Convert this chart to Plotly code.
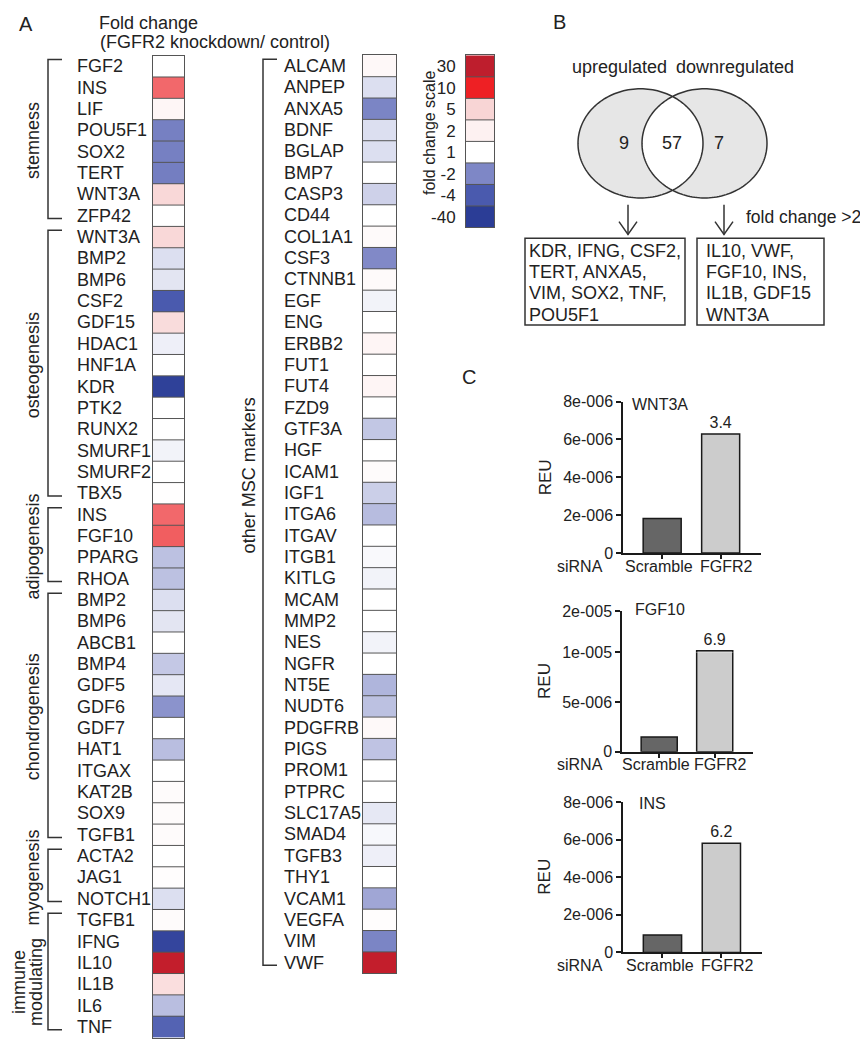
import numpy as np
import plotly.graph_objects as go

# The page body has an 8px margin, so the figure is sized to fill the rest of the window
# and page-pixel positions are converted into figure (paper) fractions.
OFF = 8
W, H = 868 - OFF, 1050 - OFF
def px(x): return (x - OFF) / W
def py(y): return 1 - (y - OFF) / H

FONT = "Arial, 'Liberation Sans', sans-serif"
TXT = "#222222"
AX = "#1a1a1a"
GRID = "#555555"

# ---------------- data ----------------
COL1_GENES = ["FGF2", "INS", "LIF", "POU5F1", "SOX2", "TERT", "WNT3A", "ZFP42",
              "WNT3A", "BMP2", "BMP6", "CSF2", "GDF15", "HDAC1", "HNF1A", "KDR", "PTK2",
              "RUNX2", "SMURF1", "SMURF2", "TBX5",
              "INS", "FGF10", "PPARG", "RHOA",
              "BMP2", "BMP6", "ABCB1", "BMP4", "GDF5", "GDF6", "GDF7", "HAT1", "ITGAX",
              "KAT2B", "SOX9", "TGFB1",
              "ACTA2", "JAG1", "NOTCH1",
              "TGFB1", "IFNG", "IL10", "IL1B", "IL6", "TNF"]
COL1_FOLD = [1.0, 8.0, 1.64, -2.3, -2.3, -2.4, 4.7, 1.0,
             4.7, -1.27, -1.22, -4.5, 4.25, -1.13, 1.0, -35, 1.0,
             1.0, -1.1, 1.0, 1.1,
             8.0, 8.3, -1.52, -1.52,
             -1.27, -1.22, 1.0, -1.46, -1.2, -1.9, 1.0, -1.54, 1.0,
             1.3, 1.3, 1.3,
             1.0, 1.15, -1.27,
             1.3, -30, 28, 4.0, -1.54, -3.6]
COL1_GROUPS = [("stemness", 8), ("osteogenesis", 13), ("adipogenesis", 4),
               ("chondrogenesis", 12), ("myogenesis", 3), ("immune<br>modulating", 6)]

COL2_GENES = ["ALCAM", "ANPEP", "ANXA5", "BDNF", "BGLAP", "BMP7", "CASP3", "CD44", "COL1A1",
              "CSF3", "CTNNB1", "EGF", "ENG", "ERBB2", "FUT1", "FUT4", "FZD9", "GTF3A", "HGF",
              "ICAM1", "IGF1", "ITGA6", "ITGAV", "ITGB1", "KITLG", "MCAM", "MMP2", "NES",
              "NGFR", "NT5E", "NUDT6", "PDGFRB", "PIGS", "PROM1", "PTPRC", "SLC17A5", "SMAD4",
              "TGFB3", "THY1", "VCAM1", "VEGFA", "VIM", "VWF"]
COL2_FOLD = [1.5, -1.27, -2.1, -1.27, -1.27, 1.0, -1.38, 1.0, 1.35,
             -1.98, 1.35, -1.1, 1.0, 1.7, 1.0, 1.7, 1.0, -1.47, 1.0,
             1.3, -1.4, -1.56, 1.0, -1.05, -1.1, 1.0, 1.0, -1.1,
             1.0, -1.62, -1.52, 1.43, -1.5, 1.0, 1.0, -1.19, -1.06,
             -1.13, 1.0, -1.74, 1.15, -2.1, 28]
COL2_GROUP = "other MSC markers"

SCALE_VALUES = [30, 10, 5, 2, 1, -2, -4, -40]
SCALE_COLORS = ["#BE1E2D", "#EE2024", "#F8D5D5", "#FDF1F1", "#FFFFFF", "#7E87C6", "#4A5AAE", "#2B3D96"]

VENN_LABELS = ["upregulated", "downregulated"]
VENN_COUNTS = [9, 57, 7]
LIST_LEFT = ["KDR, IFNG, CSF2,", "TERT, ANXA5,", "VIM, SOX2, TNF,", "POU5F1"]
LIST_RIGHT = ["IL10, VWF,", "FGF10, INS,", "IL1B, GDF15", "WNT3A"]

SIRNA = ["Scramble", "FGFR2"]
WNT3A_REU = [1.82e-6, 6.29e-6]
WNT3A_FOLD = 3.4
FGF10_REU = [1.5e-6, 1.04e-5]
FGF10_FOLD = 6.9
INS_REU = [0.93e-6, 5.8e-6]
INS_FOLD = 6.2
TICKS_8 = [0, 2e-6, 4e-6, 6e-6, 8e-6]
FGF10_TICKS_LOW = [0, 5e-6, 1e-5]
FGF10_TICKS_HIGH = [2e-5]

# ---------------- helpers ----------------
def gp_fmt(v):
    if v == 0:
        return "0"
    m, e = f"{v:.0e}".split("e")
    return f"{m}e{int(e):+04d}"

pairs = sorted(list(zip(SCALE_VALUES, SCALE_COLORS)) + [(-1, "#FFFFFF")])
vmin, vmax = pairs[0][0], pairs[-1][0]
colorscale = [[(v - vmin) / (vmax - vmin), c] for v, c in pairs]

annotations = []
shapes = []

def ann(text, x, y, size=18, xanchor="center", yanchor="middle", xref="paper", yref="paper",
        angle=0, color=TXT):
    annotations.append(dict(text=text, x=x, y=y, xref=xref, yref=yref, xanchor=xanchor,
                            yanchor=yanchor, showarrow=False, textangle=angle,
                            font=dict(family=FONT, size=size, color=color)))

def heat(z, xa, ya):
    return go.Heatmap(z=[[v] for v in z], x=[0], y=list(range(len(z))), colorscale=colorscale,
                      zmin=vmin, zmax=vmax, showscale=False, xaxis=xa, yaxis=ya,
                      hoverinfo="skip")

def heat_axes(n, x0, x1, y0, y1, anchor_x, anchor_y):
    xa = dict(domain=[px(x0), px(x1)], range=[-0.5, 0.5], showticklabels=False, ticks="",
              showgrid=False, zeroline=False, showline=True, mirror=True, linecolor=GRID,
              linewidth=1, fixedrange=True, anchor=anchor_y)
    ya = dict(domain=[py(y1), py(y0)], range=[n - 0.5, -0.5], showticklabels=False, ticks="",
              showgrid=False, zeroline=False, showline=True, mirror=True, linecolor=GRID,
              linewidth=1, fixedrange=True, anchor=anchor_x)
    return xa, ya

XRANGE = [-0.67, 1.69]
def bar_xaxis(x0, x1, anchor):
    return dict(domain=[px(x0), px(x1)], anchor=anchor, range=XRANGE, tickvals=[0, 1],
                showticklabels=False, ticks="outside", ticklen=4, tickwidth=1.5, tickcolor=AX,
                showline=True, linecolor=AX, linewidth=1.5, showgrid=False,
                zeroline=False, fixedrange=True)

def bar_yaxis(y0, y1, anchor, rng, tv):
    return dict(domain=[py(y1), py(y0)], anchor=anchor, range=rng, tickvals=tv,
                ticktext=[gp_fmt(v) for v in tv], ticks="outside", ticklen=5, tickwidth=1.5,
                tickcolor=AX, showline=True, linecolor=AX, linewidth=1.5, showgrid=False,
                zeroline=False, tickfont=dict(family=FONT, size=16, color=TXT), fixedrange=True)

def bars(vals, fold, xa, ya, show_text=True):
    return go.Bar(x=[0, 1], y=vals, width=0.65, xaxis=xa, yaxis=ya,
                  marker=dict(color=["#666666", "#CCCCCC"], line=dict(color=AX, width=1.5)),
                  text=["", f"{fold}"] if show_text else None, textposition="outside",
                  textfont=dict(family=FONT, size=16, color=TXT), cliponaxis=True,
                  hoverinfo="skip", showlegend=False)

# ---------------- traces ----------------
fig = go.Figure()
fig.add_trace(heat(COL1_FOLD, "x", "y"))
fig.add_trace(heat(COL2_FOLD, "x2", "y2"))
fig.add_trace(heat(SCALE_VALUES, "x3", "y3"))
fig.add_trace(bars(WNT3A_REU, WNT3A_FOLD, "x4", "y4"))
fig.add_trace(bars(FGF10_REU, FGF10_FOLD, "x5", "y5", show_text=False))
fig.add_trace(bars(FGF10_REU, FGF10_FOLD, "x5", "y6"))
fig.add_trace(bars(INS_REU, INS_FOLD, "x6", "y7"))

ROW = 21.7
c1_top, c2_top = 48.3, 48.0
c1_bot = min(c1_top + ROW * len(COL1_GENES), 1049)
c2_bot = c2_top + ROW * len(COL2_GENES)
xa1, ya1 = heat_axes(len(COL1_GENES), 153, 184, c1_top, c1_bot, "x", "y")
xa2, ya2 = heat_axes(len(COL2_GENES), 363, 396, c2_top, c2_bot, "x2", "y2")
xa3, ya3 = heat_axes(len(SCALE_VALUES), 466, 494, 48, 223, "x3", "y3")
ya3.update(showticklabels=True, tickvals=list(range(len(SCALE_VALUES))),
           ticktext=[str(v) for v in SCALE_VALUES], ticklabelstandoff=6,
           tickfont=dict(family=FONT, size=17, color=TXT))

layout_axes = dict(
    xaxis=xa1, yaxis=ya1, xaxis2=xa2, yaxis2=ya2, xaxis3=xa3, yaxis3=ya3,
    xaxis4=bar_xaxis(623, 761, "y4"), yaxis4=bar_yaxis(400, 554, "x4", [0, 8e-6], TICKS_8),
    xaxis5=bar_xaxis(622, 753, "y5"),
    yaxis5=bar_yaxis(655, 756, "x5", [0, 1e-5], FGF10_TICKS_LOW),
    yaxis6=bar_yaxis(613, 655, "x5", [1e-5, 2e-5], FGF10_TICKS_HIGH),
    xaxis6=bar_xaxis(623, 762, "y7"), yaxis7=bar_yaxis(807, 960, "x6", [0, 8e-6], TICKS_8),
)

# ---------------- heatmap cell borders ----------------
for n, xa, ya in [(len(COL1_GENES), "x", "y"), (len(COL2_GENES), "x2", "y2"),
                  (len(SCALE_VALUES), "x3", "y3")]:
    for i in range(n - 1):
        shapes.append(dict(type="line", xref=f"{xa} domain", yref=ya, x0=0, x1=1,
                           y0=i + 0.5, y1=i + 0.5, line=dict(color=GRID, width=1)))

# gene labels
for i, g in enumerate(COL1_GENES):
    ann(g, px(75), i, xanchor="left", yref="y")
for i, g in enumerate(COL2_GENES):
    ann(g, px(282), i, xanchor="left", yref="y2")

# brackets col 1
BR = dict(color="#333333", width=1.5)
start = 0
for label, count in COL1_GROUPS:
    end = start + count - 1
    yt, yb = start - 0.5 + 0.18, end + 0.5 - 0.37
    shapes.append(dict(type="path", xref="paper", yref="y", line=BR,
                       path=f"M{px(62)},{yt} L{px(48)},{yt} L{px(48)},{yb} L{px(62)},{yb}"))
    parts = label.split("<br>")
    if len(parts) == 1:
        ann(label, px(33), (start + end) / 2, yref="y", angle=-90)
    else:
        for part, lx in zip(parts, [19, 36]):
            ann(part, px(lx), (start + end) / 2 + 0.4, yref="y", angle=-90)
    start += count

# bracket col 2
n2 = len(COL2_GENES)
yt, yb = -0.5 + 0.18, n2 - 0.5 - 0.37
shapes.append(dict(type="path", xref="paper", yref="y2", line=BR,
                   path=f"M{px(277)},{yt} L{px(263)},{yt} L{px(263)},{yb} L{px(277)},{yb}"))
ann(COL2_GROUP, px(249), py(475), angle=-90)

# titles panel A
ann("A", px(26), py(16), size=20)
ann("Fold change", px(97), py(15), xanchor="left")
ann("(FGFR2 knockdown/ control)", px(98), py(34), xanchor="left")
ann("fold change scale", px(429), py(127), size=16, angle=-90)

# ---------------- Venn (panel B) ----------------
ann("B", px(559), py(14), size=20)
def ellipse_path(cx, cy, rx, ry, n=160):
    t = np.linspace(0, 2 * np.pi, n, endpoint=False)
    pts = [f"{px(cx + rx * np.cos(a)):.5f},{py(cy + ry * np.sin(a)):.5f}" for a in t]
    return "M" + " L".join(pts) + " Z"
venn_path = ellipse_path(640.5, 137.5, 62.5, 55.5) + " " + ellipse_path(704.5, 137.5, 62.5, 55.5)
shapes.append(dict(type="path", xref="paper", yref="paper", path=venn_path, fillrule="evenodd",
                   fillcolor="#E6E6E6", line=dict(color="#333333", width=1.5), layer="below"))
ann(VENN_LABELS[0], px(619), py(60))
ann(VENN_LABELS[1], px(735), py(60))
for c, x in zip(VENN_COUNTS, [624, 672, 719]):
    ann(str(c), px(x), py(137))

# arrows
for x in [628, 724]:
    shapes.append(dict(type="line", xref="paper", yref="paper", x0=px(x), x1=px(x),
                       y0=py(200), y1=py(230), line=BR))
    shapes.append(dict(type="path", xref="paper", yref="paper", line=BR,
                       path=f"M{px(x-9)},{py(217)} L{px(x)},{py(230)} L{px(x+9)},{py(217)}"))
ann("fold change >2", px(744), py(212), size=17.5, xanchor="left")

# boxes
for (x0, x1), lines, tx in [((525, 685), LIST_LEFT, 527), ((697, 824), LIST_RIGHT, 704)]:
    shapes.append(dict(type="rect", xref="paper", yref="paper", x0=px(x0), x1=px(x1),
                       y0=py(322), y1=py(234), line=BR))
    for k, line in enumerate(lines):
        ann(line, px(tx), py(247 + k * 21.5), xanchor="left")

# ---------------- panel C ----------------
ann("C", px(469), py(375), size=20)
LABEL_X = [-0.05, 1.1]   # category label centres (GraphPad spreads them slightly)
for title, tx, ty, yc, ylab, xa in [("WNT3A", 630, 403, 477, 568, "x4"),
                                     ("FGF10", 633, 611, 684, 769, "x5"),
                                     ("INS", 637, 809, 883, 973, "x6")]:
    ann(title, px(tx), py(ty), size=16, xanchor="left")
    ann("REU", px(545), py(yc), size=17, angle=-90)
    ann("siRNA", px(580), py(ylab), size=16)
    for lab, lx in zip(SIRNA, LABEL_X):
        ann(lab, lx, py(ylab), size=16, xref=xa)

fig.update_layout(
    width=W, height=H, margin=dict(l=0, r=0, t=0, b=0),
    paper_bgcolor="white", plot_bgcolor="white", showlegend=False, hovermode=False,
    font=dict(family=FONT, color=TXT), annotations=annotations, shapes=shapes,
    barmode="overlay", **layout_axes)

fig.write_html("out.html")
